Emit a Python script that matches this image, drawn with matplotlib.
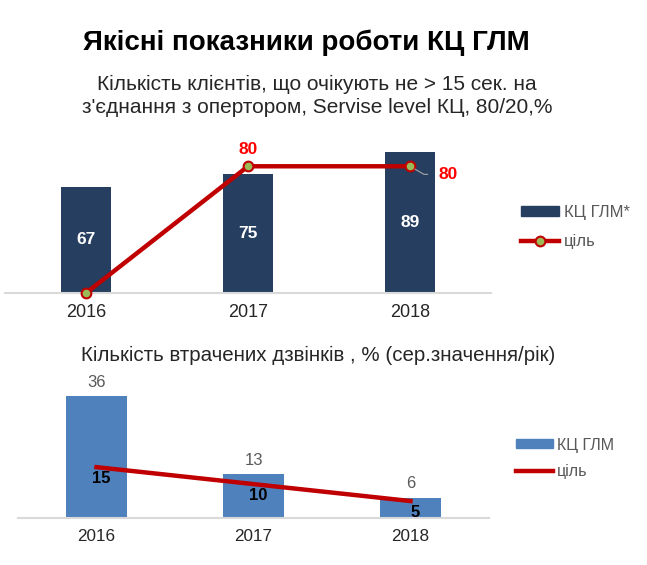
import matplotlib
matplotlib.use("Agg")
import matplotlib.pyplot as plt
from matplotlib.patches import Patch
from matplotlib.lines import Line2D

plt.rcParams['font.family'] = ['Liberation Sans', 'DejaVu Sans']

# Data
years = ["2016", "2017", "2018"]
service_level = [67, 75, 89]
service_target = [0, 80, 80]
lost_calls = [36, 13, 6]
lost_target = [15, 10, 5]

title = "Якісні показники роботи КЦ ГЛМ"
subtitle_top = "Кількість клієнтів, що очікують не > 15 сек. на\nз'єднання з опертором, Servise level КЦ, 80/20,%"
subtitle_bottom = "Кількість втрачених дзвінків , % (сер.значення/рік)"

navy = "#263F60"
blue = "#4F81BD"
red = "#C00000"
green = "#9BBB59"
grey_text = "#595959"
axis_grey = "#D9D9D9"

W, H = 647, 565
fig = plt.figure(figsize=(W / 100, H / 100), dpi=100)


def fx(px):
    return px / W


def fy(py):
    return 1 - py / H


fig.text(fx(306), fy(43), title, ha="center", va="center",
         fontsize=20, fontweight="bold", color="black")
fig.text(fx(317), fy(96), subtitle_top, ha="center", va="center",
         fontsize=15, color="#262626", linespacing=1.3)
fig.text(fx(318), fy(355), subtitle_bottom, ha="center", va="center",
         fontsize=14.8, color="#262626")

x = list(range(len(years)))


def style_axes(ax, pad, size):
    for s in ["top", "left", "right"]:
        ax.spines[s].set_visible(False)
    ax.spines["bottom"].set_color(axis_grey)
    ax.spines["bottom"].set_linewidth(1.5)
    ax.set_yticks([])
    ax.set_xticks(x)
    ax.set_xticklabels(years, fontsize=size, color="#262626")
    ax.tick_params(axis="x", length=0, pad=pad)
    ax.set_xlim(-0.5, 2.5)
    ax.patch.set_alpha(0)


# ---- top chart: service level
ax1 = fig.add_axes([fx(5), fy(293), 486 / W, 158.4 / H])
ax1.bar(x, service_level, width=0.31, color=navy, zorder=2)
ax1.plot(x, service_target, color=red, lw=3.2, marker="o", markersize=7,
         markerfacecolor=green, markeredgecolor=red, markeredgewidth=1.5,
         zorder=3, clip_on=False)
ax1.set_ylim(0, 100)
style_axes(ax1, 8.2, 13)

for xi, v in zip(x, service_level):
    ax1.text(xi, v / 2, str(v), ha="center", va="center", color="white",
             fontsize=12.5, fontweight="bold", zorder=4)

ax1.annotate(str(service_target[1]), (x[1], service_target[1]),
             xytext=(0, 12.2), textcoords="offset points", ha="center",
             va="center", color="#FF0000", fontsize=12.5, fontweight="bold")
ax1.annotate(str(service_target[2]), (x[2], service_target[2]),
             xytext=(27.7, -5.8), textcoords="offset points", ha="center",
             va="center", color="#FF0000", fontsize=12.5, fontweight="bold",
             arrowprops=dict(arrowstyle="-", color="#A6A6A6", lw=0.8,
                             shrinkA=6, shrinkB=4,
                             connectionstyle="angle,angleA=0,angleB=-30,rad=0"))

leg1 = fig.legend(
    handles=[Patch(facecolor=navy, edgecolor=navy),
             Line2D([0], [0], color=red, lw=3.2, marker="o", markersize=7,
                    markerfacecolor=green, markeredgecolor=red,
                    markeredgewidth=1.5)],
    labels=["КЦ ГЛМ*", "ціль"], loc="center left",
    bbox_to_anchor=(fx(521), fy(227)), frameon=False, fontsize=12,
    borderpad=0, borderaxespad=0, handlelength=2.3, handleheight=0.5,
    handletextpad=0.25, labelspacing=0.85)
for t in leg1.get_texts():
    t.set_color(grey_text)

# ---- bottom chart: lost calls
ax2 = fig.add_axes([fx(18), fy(518), 471 / W, 135.6 / H])
ax2.bar(x, lost_calls, width=0.39, color=blue, zorder=2)
ax2.plot(x, lost_target, color=red, lw=3.2, zorder=3)
ax2.set_ylim(0, 40)
style_axes(ax2, 7.6, 12.3)

for xi, v in zip(x, lost_calls):
    ax2.annotate(str(v), (xi, v), xytext=(0, 10), textcoords="offset points",
                 ha="center", va="center", color=grey_text, fontsize=12)
for xi, v in zip(x, lost_target):
    ax2.annotate(str(v), (xi, v), xytext=(3.6, -8.3), textcoords="offset points",
                 ha="center", va="center", color="black", fontsize=12,
                 fontweight="bold", zorder=4)

leg2 = fig.legend(
    handles=[Patch(facecolor=blue, edgecolor=blue),
             Line2D([0], [0], color=red, lw=3.2)],
    labels=["КЦ ГЛМ", "ціль"], loc="center left",
    bbox_to_anchor=(fx(516), fy(458.5)), frameon=False, fontsize=11.5,
    borderpad=0, borderaxespad=0, handlelength=2.3, handleheight=0.5,
    handletextpad=0.25, labelspacing=0.75)
for t in leg2.get_texts():
    t.set_color(grey_text)

fig.savefig("out.png", dpi=100)
